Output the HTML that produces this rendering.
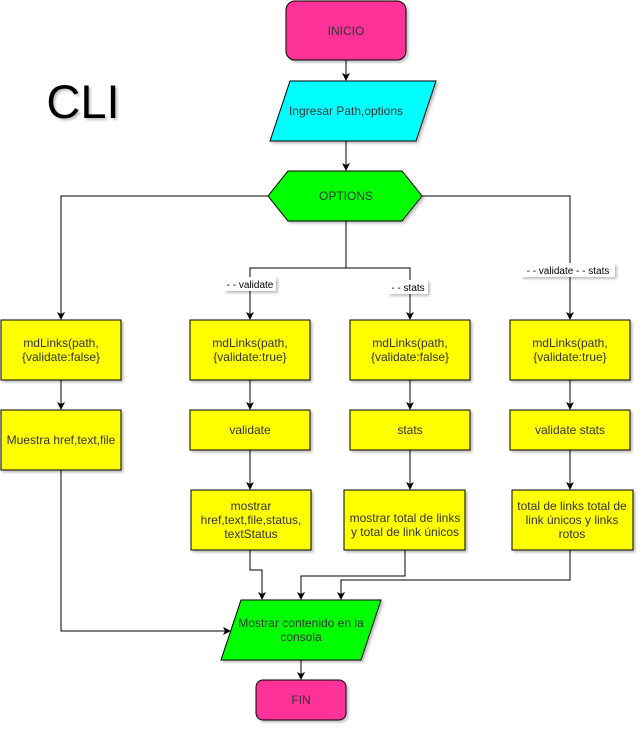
<!DOCTYPE html>
<html><head><meta charset="utf-8"><style>
body{margin:0;background:#fff;width:643px;height:733px;overflow:hidden}
svg text{font-family:"Liberation Sans",sans-serif;font-size:12px;fill:#333}
</style></head><body>
<svg width="643" height="733" viewBox="0 0 643 733" xmlns="http://www.w3.org/2000/svg">
<defs>
<filter id="sh" x="-10%" y="-10%" width="130%" height="130%"><feDropShadow dx="2" dy="2" stdDeviation="1.2" flood-color="#000" flood-opacity="0.25"/></filter>
<marker id="ar" markerWidth="8" markerHeight="8" refX="7" refY="4" orient="auto" markerUnits="userSpaceOnUse"><path d="M0,0 L8,4 L0,8 L2,4 Z" fill="#000"/></marker>
</defs>
<g fill="none" stroke="#000" stroke-width="1">
<path d="M346,60 V80" marker-end="url(#ar)"/>
<path d="M346,141 V170" marker-end="url(#ar)"/>
<path d="M268,196 H61 V319" marker-end="url(#ar)"/>
<path d="M422,196 H570 V319" marker-end="url(#ar)"/>
<path d="M346,221 V268 H250 V319" marker-end="url(#ar)"/>
<path d="M346,268 H410 V319" marker-end="url(#ar)"/>
<path d="M61,380 V409" marker-end="url(#ar)"/>
<path d="M250,380 V409" marker-end="url(#ar)"/>
<path d="M410,380 V409" marker-end="url(#ar)"/>
<path d="M570,380 V409" marker-end="url(#ar)"/>
<path d="M250,450 V489" marker-end="url(#ar)"/>
<path d="M410,450 V489" marker-end="url(#ar)"/>
<path d="M570,450 V489" marker-end="url(#ar)"/>
<path d="M61,470 V631 H230" marker-end="url(#ar)"/>
<path d="M250,550 V570 H262 V599" marker-end="url(#ar)"/>
<path d="M405,550 V576 H301 V599" marker-end="url(#ar)"/>
<path d="M570,550 V580 H341 V599" marker-end="url(#ar)"/>
<path d="M301,660 V679" marker-end="url(#ar)"/>
</g>
<g stroke="#000" stroke-width="1" filter="url(#sh)">
<rect x="286" y="1" width="120" height="59" rx="9" fill="#FF3399"/>
<path d="M290,81 H436 L416,141 H270 Z" fill="#00FFFF"/>
<path d="M288,171 H402 L422,196 L402,221 H288 L268,196 Z" fill="#00FF00"/>
<rect x="1" y="320" width="120" height="60" fill="#FFFF00"/>
<rect x="190" y="320" width="120" height="60" fill="#FFFF00"/>
<rect x="350" y="320" width="120" height="60" fill="#FFFF00"/>
<rect x="510" y="320" width="120" height="60" fill="#FFFF00"/>
<rect x="1" y="410" width="120" height="60" fill="#FFFF00"/>
<rect x="190" y="410" width="120" height="40" fill="#FFFF00"/>
<rect x="350" y="410" width="120" height="40" fill="#FFFF00"/>
<rect x="510" y="410" width="120" height="40" fill="#FFFF00"/>
<rect x="191" y="490" width="120" height="60" fill="#FFFF00"/>
<rect x="344" y="490" width="121" height="60" fill="#FFFF00"/>
<rect x="512" y="490" width="121" height="60" fill="#FFFF00"/>
<path d="M241,600 H381 L361,660 H221 Z" fill="#00FF00"/>
<rect x="256" y="680" width="90" height="40" rx="7" fill="#FF3399"/>
</g>
<g filter="url(#sh)" fill="#fff">
<rect x="224" y="277" width="52" height="14"/>
<rect x="388" y="280" width="40" height="14"/>
<rect x="521" y="263" width="94" height="14"/>
</g>
<text x="250" y="288" text-anchor="middle" style="font-size:10px;fill:#000">- - validate</text>
<text x="408" y="291" text-anchor="middle" style="font-size:10px;fill:#000">- - stats</text>
<text x="568" y="274" text-anchor="middle" style="font-size:10px;fill:#000">- - validate - - stats</text>
<text x="83" y="118" text-anchor="middle" filter="url(#sh)" style="font-size:47px;fill:#000">CLI</text>
<g text-anchor="middle">
<text x="346" y="35">INICIO</text>
<text x="346" y="115">Ingresar Path,options</text>
<text x="346" y="200">OPTIONS</text>
<text x="61" y="347">mdLinks(path,</text><text x="61" y="361">{validate:false}</text>
<text x="250" y="347">mdLinks(path,</text><text x="250" y="361">{validate:true}</text>
<text x="410" y="347">mdLinks(path,</text><text x="410" y="361">{validate:false}</text>
<text x="570" y="347">mdLinks(path,</text><text x="570" y="361">{validate:true}</text>
<text x="61" y="444">Muestra href,text,file</text>
<text x="250" y="434">validate</text>
<text x="410" y="434">stats</text>
<text x="570" y="434">validate stats</text>
<text x="251" y="510">mostrar</text><text x="251" y="524">href,text,file,status,</text><text x="251" y="538">textStatus</text>
<text x="405" y="522">mostrar total de links</text><text x="405" y="536">y total de link únicos</text>
<text x="572" y="510">total de links total de</text><text x="572" y="524">link únicos y links</text><text x="572" y="538">rotos</text>
<text x="301" y="627">Mostrar contenido en la</text><text x="301" y="641">consola</text>
<text x="301" y="704">FIN</text>
</g>
</svg>
</body></html>
